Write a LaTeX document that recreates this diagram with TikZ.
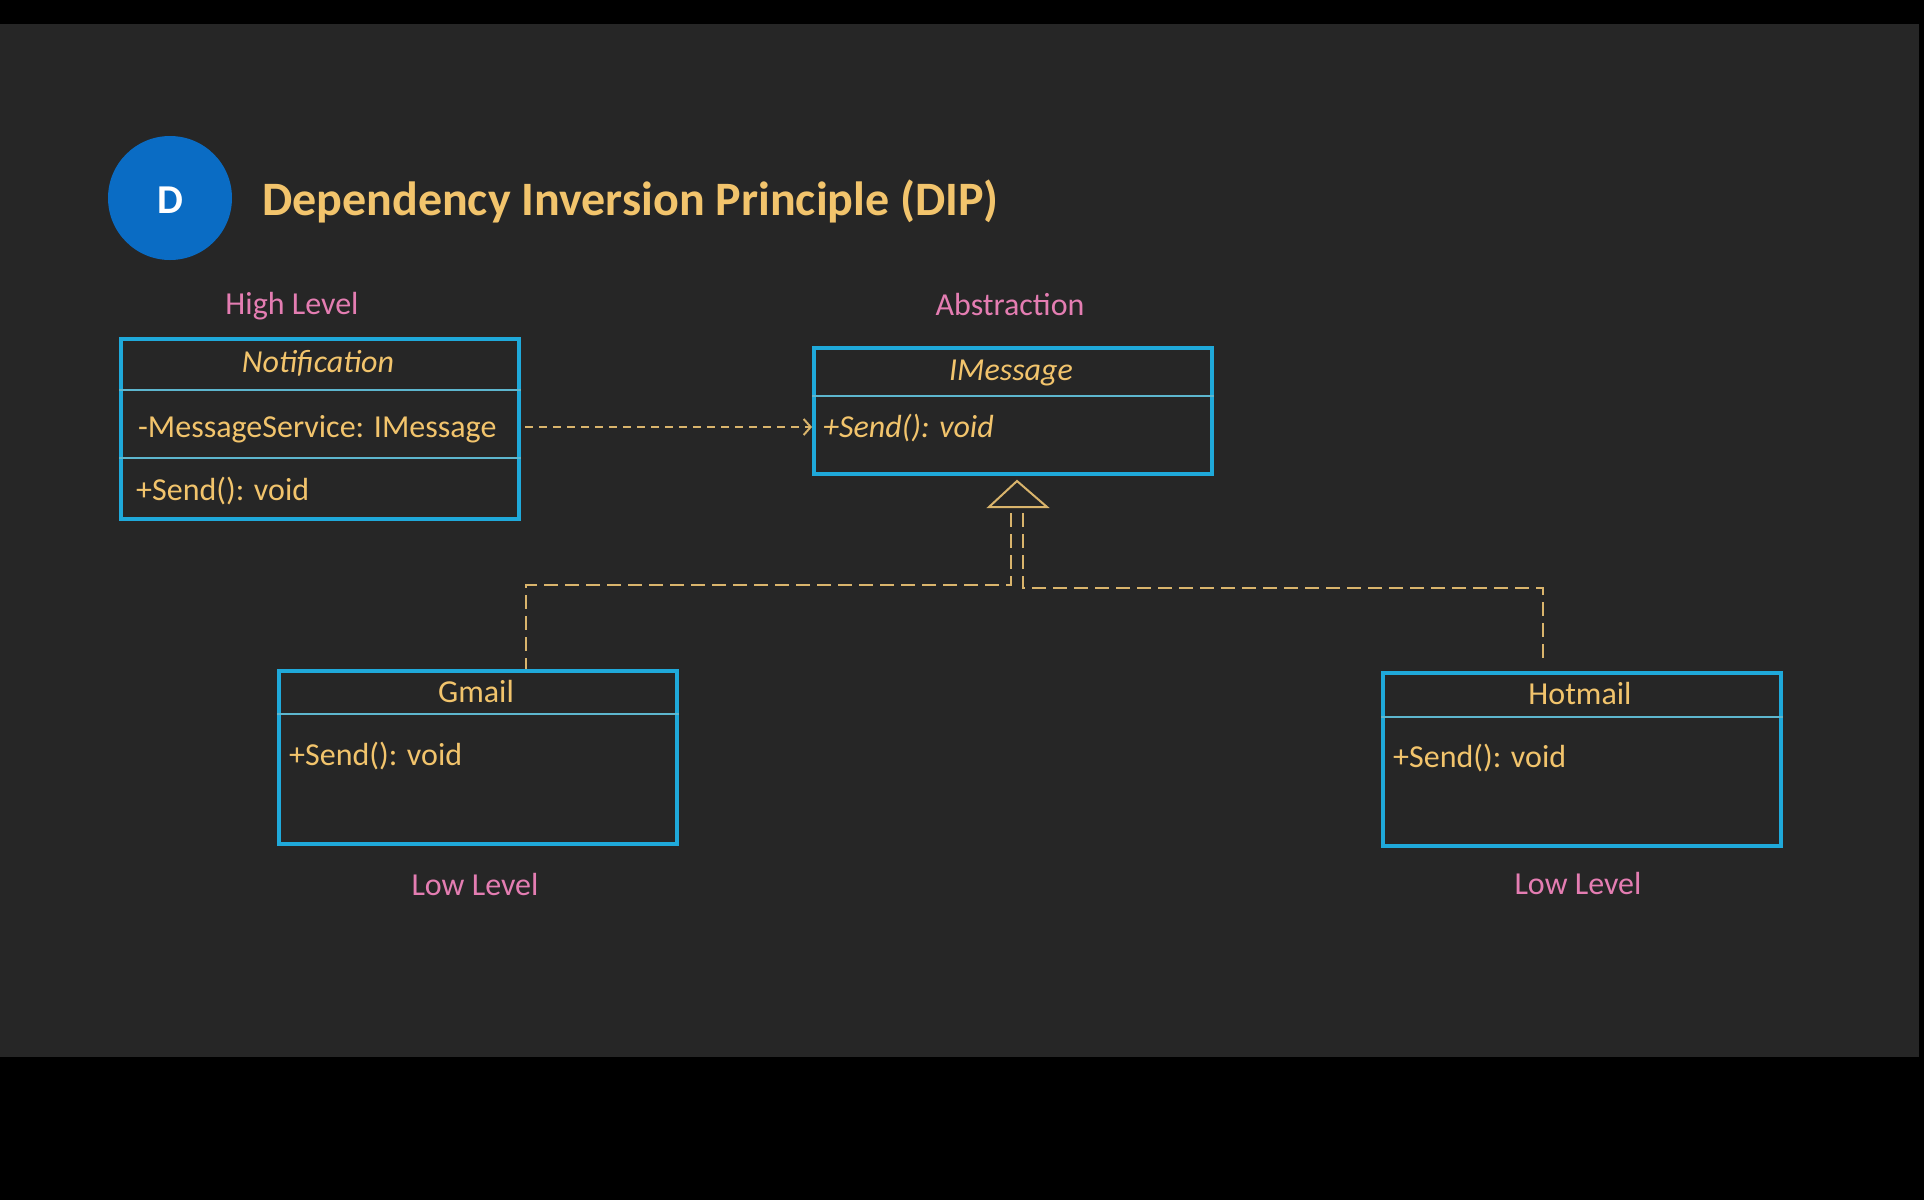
\documentclass[tikz,border=0pt]{standalone}
\usepackage{fontspec}
\setmainfont{Carlito}
\usetikzlibrary{arrows.meta,positioning,calc}
\definecolor{bggray}{HTML}{262626}
\definecolor{gold}{HTML}{F2C46C}
\definecolor{dashgold}{HTML}{D9B46C}
\definecolor{pinklbl}{HTML}{E47DB2}
\definecolor{boxcyan}{HTML}{1FA9DA}
\definecolor{divcyan}{HTML}{5DB6CE}
\definecolor{dblue}{HTML}{0A6CC4}

\begin{document}
\begin{tikzpicture}[x=1pt,y=-1pt,
    classbox/.style={draw=boxcyan,line width=4pt,minimum width=398pt,inner sep=0pt,anchor=north west},
    divider/.style={draw=divcyan,line width=2.5pt},
    txt/.style={text=gold,inner sep=0pt,font=\fontsize{32}{36}\selectfont},
    lbl/.style={text=pinklbl,inner sep=0pt,font=\fontsize{32}{36}\selectfont},
    dep/.style={draw=dashgold,line width=2pt,dash pattern=on 8pt off 6pt},
    realize/.style={draw=dashgold,line width=2pt,dash pattern=on 14pt off 7pt}]
    % page and slide background
    \fill[black] (0,0) rectangle (1924,1200);
    \fill[bggray] (0,24) rectangle (1919,1057);

    % title
    \node[circle,fill=dblue,minimum size=124pt,inner sep=0pt] (badge) at (170,198) {};
    \node[text=white,inner sep=0pt,font=\fontsize{41}{44}\selectfont\bfseries,anchor=base] (badgetxt) at (170,213) {D};
    \node[text=gold,inner sep=0pt,font=\fontsize{48}{52}\selectfont\bfseries,anchor=base west] (title) at (262,215) {Dependency Inversion Principle (DIP)};

    % classes
    \node[classbox,minimum height=180pt] (notif) at (119,337) {};
    \node[classbox,minimum height=126pt] (imsg) at (812,346) {};
    \node[classbox,minimum height=173pt] (gmail) at (277,669) {};
    \node[classbox,minimum height=173pt] (hotmail) at (1381,671) {};

    \draw[divider] ($(notif.north west)+(0,53)$) -- ($(notif.north east)+(0,53)$);
    \draw[divider] ($(notif.north west)+(0,121)$) -- ($(notif.north east)+(0,121)$);
    \draw[divider] ($(imsg.north west)+(0,50)$) -- ($(imsg.north east)+(0,50)$);
    \draw[divider] ($(gmail.north west)+(0,45)$) -- ($(gmail.north east)+(0,45)$);
    \draw[divider] ($(hotmail.north west)+(0,46)$) -- ($(hotmail.north east)+(0,46)$);

    \node[txt,anchor=base,font=\fontsize{32}{36}\selectfont\itshape] (ntitle) at (318,372) {Notification};
    \node[txt,anchor=base west] (nattr) at (138,437) {-MessageService: IMessage};
    \node[txt,anchor=base west] (nsend) at (136,500) {+Send(): void};

    \node[txt,anchor=base,font=\fontsize{32}{36}\selectfont\itshape] (ititle) at (1011,380) {IMessage};
    \node[txt,anchor=base west,font=\fontsize{32}{36}\selectfont\itshape] (isend) at (823,437) {+Send(): void};

    \node[txt,anchor=base] (gtitle) at (476,702) {Gmail};
    \node[txt,anchor=base west] (gsend) at (289,765) {+Send(): void};

    \node[txt,anchor=base] (htitle) at (1580,704) {Hotmail};
    \node[txt,anchor=base west] (hsend) at (1393,767) {+Send(): void};

    % level labels
    \node[lbl,anchor=base] (high) at (292,314) {High Level};
    \node[lbl,anchor=base] (abstr) at (1010,315) {Abstraction};
    \node[lbl,anchor=base] (lowg) at (475,895) {Low Level};
    \node[lbl,anchor=base] (lowh) at (1578,894) {Low Level};

    % dependency
    \coordinate (depstart) at ($(notif.north east)+(4,90)$);
    \draw[dep,-{Straight Barb[length=7pt,width=16pt,line width=2pt]}] (depstart) -- (depstart -| imsg.west);

    % realization
    \coordinate (apex) at (1017,481);
    \draw[draw=dashgold,line width=2pt,line join=miter] (apex) -- ++(30,26) -- ++(-58,0) -- cycle;
    \coordinate (tl) at (1011,513);
    \coordinate (tr) at (1023,513);
    \draw[realize] (tl) -- ++(0,72) -| ($(gmail.north)+(48,0)$);
    \draw[realize] (tr) -- ++(0,75) -| ($(hotmail.north)+(-39,-12)$);
\end{tikzpicture}
\end{document}
